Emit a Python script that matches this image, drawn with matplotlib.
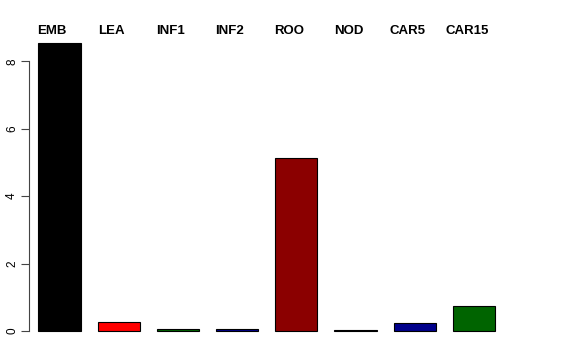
import numpy as np
import matplotlib
matplotlib.use("Agg")
import matplotlib.pyplot as plt

tissues = ["EMB", "LEA", "INF1", "INF2", "ROO", "NOD", "CAR5", "CAR15"]
values = [8.56, 0.26, 0.05, 0.05, 5.12, 0.02, 0.23, 0.75]
colors = ["black", "red", "darkgreen", "darkblue", "darkred", "purple", "darkblue", "darkgreen"]
yticks = [0, 2, 4, 6, 8]

plt.rcParams["font.family"] = ["Liberation Sans", "DejaVu Sans"]

fig = plt.figure(figsize=(5.76, 3.6), dpi=100)
# axes placed in pixels to mimic R's plot region
ax = fig.add_axes([29 / 576, (360 - 342.5) / 360, 511 / 576, 311.5 / 360])

# R barplot style layout: width 1, space 0.4
pos = 0.4 + 1.4 * np.arange(len(values)) + 0.5
ax.bar(pos, values, width=1, color=colors, edgecolor="black", linewidth=0.8)

ymax = max(values)
ax.set_ylim(-0.04 * ymax, 1.04 * ymax)
ax.set_xlim(0.18, 0.18 + 511 / 42.3)

for s in ["top", "right", "bottom"]:
    ax.spines[s].set_visible(False)
ax.spines["left"].set_bounds(0, 8)
ax.spines["left"].set_color("#444444")
ax.set_xticks([])
ax.set_yticks(yticks)
ax.tick_params(axis="y", length=5.8, width=0.8, color="#444444", pad=2, labelsize=8.5)
for lab in ax.get_yticklabels():
    lab.set_rotation(90)
    lab.set_va("center")

# tissue names above the bars
for x, name in zip(pos, tissues):
    fx = (29 + (x - 0.18 - 0.17) * 42.3) / 576
    fig.text(fx, 0.9056, name, ha="center", va="baseline",
             fontsize=9.5, fontweight="bold")

fig.savefig("out.png", dpi=100)
